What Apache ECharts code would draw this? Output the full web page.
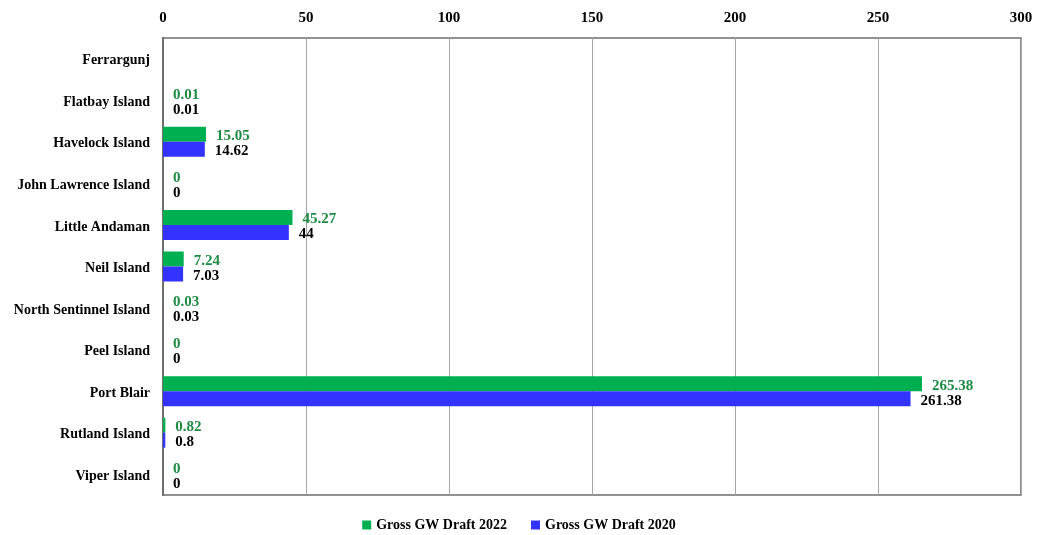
<!DOCTYPE html>
<html>
<head>
<meta charset="utf-8">
<script src="https://cdn.jsdelivr.net/npm/echarts@6/dist/echarts.min.js"></script>
<style>
  html, body { margin: 0; padding: 0; background: #fff; }
  #chart { width: 1038px; height: 535px; }
</style>
</head>
<body>
<div id="chart"></div>
<script>
// Gross groundwater draft by assessment unit
const categories = [
  'Ferrargunj', 'Flatbay Island', 'Havelock Island', 'John Lawrence Island',
  'Little Andaman', 'Neil Island', 'North Sentinnel Island', 'Peel Island',
  'Port Blair', 'Rutland Island', 'Viper Island'
];
const draft2022 = [null, 0.01, 15.05, 0, 45.27, 7.24, 0.03, 0, 265.38, 0.82, 0];
const draft2020 = [null, 0.01, 14.62, 0, 44, 7.03, 0.03, 0, 261.38, 0.8, 0];
const seriesNames = ['Gross GW Draft 2022', 'Gross GW Draft 2020'];
const xTicks = { min: 0, max: 300, interval: 50 };

const FONT = '"Liberation Serif", "DejaVu Serif", serif';

const chart = echarts.init(document.getElementById('chart'), null, { renderer: 'canvas' });

chart.setOption({
  backgroundColor: '#ffffff',
  animation: false,
  textStyle: { fontFamily: FONT },
  grid: {
    left: 163, right: 17, top: 38, bottom: 40,
    show: true, borderColor: '#6e6e6e', borderWidth: 1.5
  },
  legend: {
    top: 513,
    left: 'center',
    icon: 'rect',
    itemWidth: 9,
    itemHeight: 9,
    itemGap: 24,
    textStyle: { fontFamily: FONT, fontWeight: 'bold', fontSize: 14, color: '#000' },
    data: seriesNames
  },
  xAxis: {
    type: 'value',
    position: 'top',
    min: xTicks.min,
    max: xTicks.max,
    interval: xTicks.interval,
    axisLine: { show: false },
    axisTick: { show: false },
    axisLabel: { fontFamily: FONT, fontWeight: 'bold', fontSize: 15, color: '#000', margin: 12 },
    splitLine: { show: true, lineStyle: { color: '#a6a6a6', width: 1 } }
  },
  yAxis: {
    type: 'category',
    inverse: true,
    data: categories,
    axisLine: { show: true, lineStyle: { color: '#6e6e6e', width: 2 } },
    axisTick: { show: false },
    axisLabel: {
      margin: 13,
      formatter: '{c|{value}}',
      rich: {
        c: {
          fontFamily: FONT, fontWeight: 'bold', fontSize: 14, color: '#000',
          padding: [4, 0, 0, 0]
        }
      }
    }
  },
  series: [
    {
      name: seriesNames[0],
      type: 'bar',
      data: draft2022,
      barWidth: 15,
      barGap: '0%',
      itemStyle: { color: '#00b050' },
      label: {
        show: true, position: 'right', distance: 10, offset: [0, 2],
        fontFamily: FONT, fontWeight: 'bold', fontSize: 15, color: '#1e8b45'
      }
    },
    {
      name: seriesNames[1],
      type: 'bar',
      data: draft2020,
      barWidth: 15,
      barGap: '0%',
      itemStyle: { color: '#3333ff' },
      label: {
        show: true, position: 'right', distance: 10, offset: [0, 2],
        fontFamily: FONT, fontWeight: 'bold', fontSize: 15, color: '#000'
      }
    }
  ]
});
</script>
</body>
</html>
